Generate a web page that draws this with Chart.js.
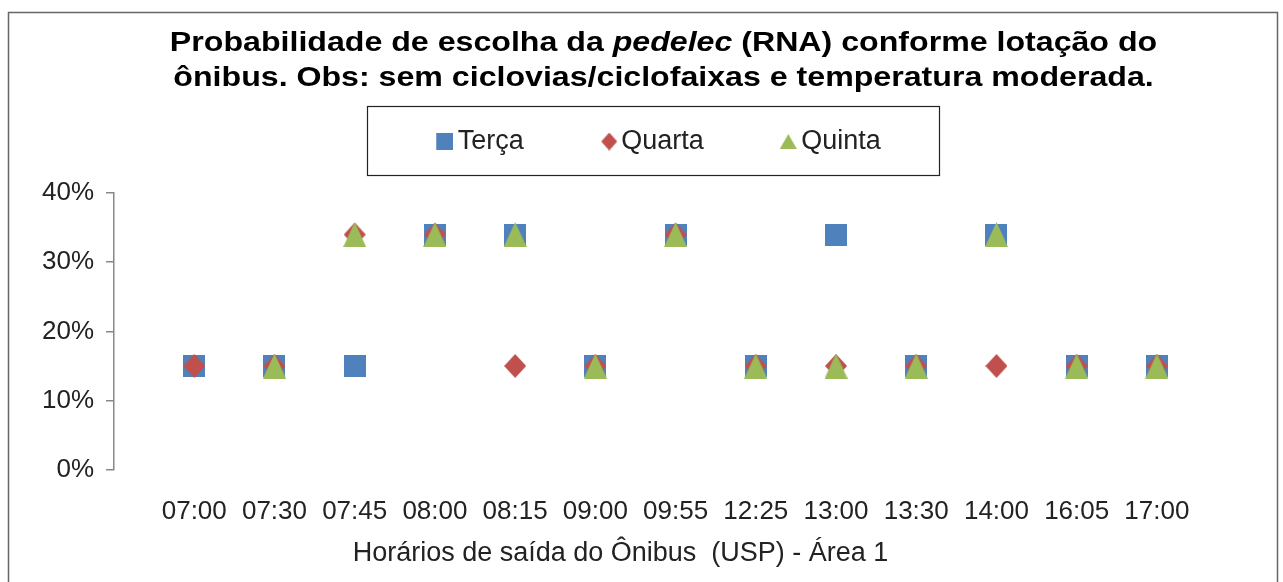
<!DOCTYPE html>
<html>
<head>
<meta charset="utf-8">
<script src="https://cdn.jsdelivr.net/npm/chart.js@4/dist/chart.umd.min.js"></script>
<style>
    html, body { margin: 0; padding: 0; background: #fff; }
    #wrap { position: relative; width: 1283px; height: 582px; }
</style>
</head>
<body>
<div id="wrap"><canvas id="chart"></canvas></div>
<script>
// --- DATA ---
const categories = ['07:00', '07:30', '07:45', '08:00', '08:15', '09:00', '09:55', '12:25', '13:00', '13:30', '14:00', '16:05', '17:00'];
const terca  = [15, 15, 15, 34, 34, 15, 34, 15, 34, 15, 34, 15, 15];
const quarta = [15, 15, 34, 34, 15, 15, 34, 15, 15, 15, 15, 15, 15];
const quinta = [null, 15, 34, 34, 34, 15, 34, 15, 15, 15, 34, 15, 15];
const yTicks = [0, 10, 20, 30, 40];
const seriesNames = ['Terça', 'Quarta', 'Quinta'];

const titleLines = [
    [{ t: 'Probabilidade de escolha da ' }, { t: 'pedelec', i: true }, { t: ' (RNA) conforme lotação do' }],
    [{ t: 'ônibus. Obs: sem ciclovias/ciclofaixas e temperatura moderada.' }]
];
const xTitle = 'Horários de saída do Ônibus  (USP) - Área 1';

const BLUE = '#4F81BD';
const RED = '#C0504D';
const GREEN = '#9BBB59';

// --- MARKERS ---
// padLeft leaves transparent room on the left so the legend icon sits close to its text
function marker(shape, color, w, h, padLeft = 0) {
    const c = document.createElement('canvas');
    c.width = w + padLeft; c.height = h;
    const g = c.getContext('2d');
    g.translate(padLeft, 0);
    g.fillStyle = color;
    g.beginPath();
    if (shape === 'square') {
        g.rect(0, 0, w, h);
    } else if (shape === 'diamond') {
        g.moveTo(w / 2, 0); g.lineTo(w, h / 2); g.lineTo(w / 2, h); g.lineTo(0, h / 2);
    } else {
        g.moveTo(w / 2, 0); g.lineTo(w, h); g.lineTo(0, h);
    }
    g.closePath();
    g.fill();
    return c;
}

const pointIcons = [marker('square', BLUE, 22, 22), marker('diamond', RED, 22, 24), marker('triangle', GREEN, 23, 25)];
const legendIcons = [marker('square', BLUE, 17, 17, 19), marker('diamond', RED, 16, 18, 21), marker('triangle', GREEN, 17, 15, 19)];

const toPoints = arr => arr.map((v, i) => ({ x: i, y: v })).filter(p => p.y !== null);

// --- PLUGIN: title, axis title, frame, legend box ---
const decorPlugin = {
    id: 'decor',
    afterLayout(chart) {
        // legend sits a bit right of centre and closer to the title than the default layout
        const lg = chart.legend;
        lg.left += 40; lg.right += 40;
        lg.top -= 28; lg.bottom -= 28;
    },
    afterDraw(chart) {
        const ctx = chart.ctx;
        const area = chart.chartArea;
        const mid = (area.left + area.right) / 2;
        ctx.save();

        // outer frame
        ctx.strokeStyle = '#666';
        ctx.lineWidth = 1.5;
        ctx.strokeRect(8.5, 12.5, 1269, 600);

        // title with italic word, slightly widened like the original
        const cx = mid + 8;
        const sx = 1.19;
        ctx.fillStyle = '#000';
        ctx.textBaseline = 'alphabetic';
        ctx.textAlign = 'left';
        titleLines.forEach((segs, li) => {
            const fonts = segs.map(s => (s.i ? 'italic ' : '') + 'bold 27px "Liberation Sans", Arial, sans-serif');
            let total = 0;
            const widths = segs.map((s, k) => { ctx.font = fonts[k]; const w = ctx.measureText(s.t).width; total += w; return w; });
            ctx.save();
            ctx.translate(cx, 51 + li * 35);
            ctx.scale(sx, 1);
            let x = -total / 2;
            segs.forEach((s, k) => {
                ctx.font = fonts[k];
                ctx.fillText(s.t, x, 0);
                x += widths[k];
            });
            ctx.restore();
        });

        // x axis title, left of centre as in the original
        ctx.font = '27px "Liberation Sans", Arial, sans-serif';
        ctx.fillStyle = '#222';
        ctx.textAlign = 'center';
        ctx.textBaseline = 'middle';
        ctx.fillText(xTitle, mid - 35, area.bottom + 84);

        // legend box
        const boxes = chart.legend.legendHitBoxes;
        if (boxes && boxes.length) {
            const l = Math.min(...boxes.map(b => b.left));
            const r = Math.max(...boxes.map(b => b.left + b.width));
            const midY = boxes[0].top + boxes[0].height / 2;
            const midX = (l + r) / 2;
            ctx.strokeStyle = '#222';
            ctx.lineWidth = 1.2;
            ctx.strokeRect(midX - 286, midY - 35, 572, 69);
        }
        ctx.restore();
    }
};

Chart.defaults.font.family = '"Liberation Sans", Arial, sans-serif';
Chart.defaults.color = '#222';

const datasets = [terca, quarta, quinta].map((arr, i) => ({
    label: seriesNames[i],
    data: toPoints(arr),
    pointStyle: pointIcons[i],
    backgroundColor: [BLUE, RED, GREEN][i],
    borderColor: [BLUE, RED, GREEN][i],
    showLine: false,
    order: 2 - i
}));

new Chart(document.getElementById('chart'), {
    type: 'scatter',
    data: { datasets },
    options: {
        responsive: true,
        maintainAspectRatio: false,
        animation: false,
        layout: { padding: { top: 90, left: 30, right: 86, bottom: 37 } },
        plugins: {
            tooltip: { enabled: false },
            legend: {
                position: 'top',
                labels: {
                    usePointStyle: true,
                    boxWidth: 18,
                    padding: 66,
                    font: { size: 27 },
                    color: '#222',
                    sort: (a, b) => a.datasetIndex - b.datasetIndex,
                    generateLabels: chart => Chart.defaults.plugins.legend.labels.generateLabels(chart)
                        .map(item => Object.assign(item, { pointStyle: legendIcons[item.datasetIndex] }))
                }
            }
        },
        scales: {
            x: {
                type: 'linear',
                min: -1,
                max: 12.5,
                afterBuildTicks: scale => { scale.ticks = categories.map((c, i) => ({ value: i })); },
                ticks: {
                    autoSkip: false,
                    maxRotation: 0,
                    padding: 18,
                    font: { size: 26 },
                    color: '#222',
                    callback: v => categories[v] ?? ''
                },
                grid: { display: false },
                border: { display: false }
            },
            y: {
                min: 0,
                max: 40,
                afterBuildTicks: scale => { scale.ticks = yTicks.map(v => ({ value: v })); },
                ticks: {
                    padding: 12,
                    font: { size: 26 },
                    color: '#222',
                    callback: v => v + '%'
                },
                grid: { drawOnChartArea: false, tickLength: 8, color: '#888', lineWidth: 1.5 },
                border: { display: true, color: '#888', width: 1.5 }
            }
        }
    },
    plugins: [decorPlugin]
});
</script>
</body>
</html>
